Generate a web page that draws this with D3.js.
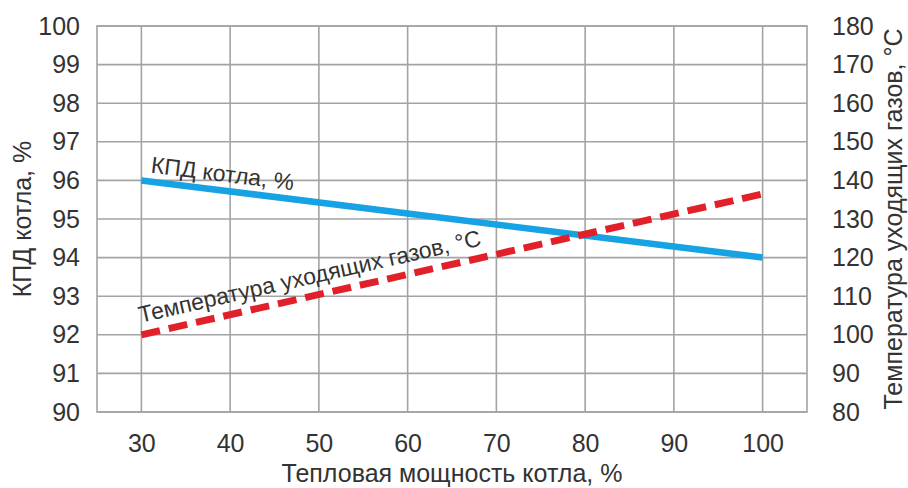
<!DOCTYPE html>
<html>
<head>
<meta charset="utf-8">
<script src="https://cdn.jsdelivr.net/npm/d3@7"></script>
<style>
html,body{margin:0;padding:0;background:#fff;}
svg{display:block;}
text{font-family:"Liberation Sans",Arial,sans-serif;fill:#333;}
</style>
</head>
<body>
<svg id="chart" width="908" height="488"></svg>
<script>
// Data
const loads = [30, 100];                 // Тепловая мощность котла, %
const efficiency = [96, 94];             // КПД котла, %
const fluegasTemp = [100, 136.5];        // Температура уходящих газов, °C
const xTicks = [30, 40, 50, 60, 70, 80, 90, 100];
const yLeftTicks = [90, 91, 92, 93, 94, 95, 96, 97, 98, 99, 100];
const yRightTicks = [80, 90, 100, 110, 120, 130, 140, 150, 160, 170, 180];
const xTitle = "Тепловая мощность котла, %";
const yLeftTitle = "КПД котла, %";
const yRightTitle = "Температура уходящих газов, °C";
const effLabel = "КПД котла, %";
const tempLabel = "Температура уходящих газов, °C";

const svg = d3.select("#chart");
const L = 97, R = 807, T = 26, B = 412;

const x = d3.scaleLinear().domain([25, 105]).range([L, R]);
const yL = d3.scaleLinear().domain([90, 100]).range([B, T]);
const yR = d3.scaleLinear().domain([80, 180]).range([B, T]);

const gridColor = "#a3a3a3";
// grid
const g = svg.append("g");
g.selectAll("line.h").data(yLeftTicks).enter().append("line")
  .attr("x1", L).attr("x2", R).attr("y1", d => yL(d)).attr("y2", d => yL(d))
  .attr("stroke", gridColor).attr("stroke-width", 1.6);
g.selectAll("line.v").data(xTicks).enter().append("line")
  .attr("y1", T).attr("y2", B).attr("x1", d => x(d)).attr("x2", d => x(d))
  .attr("stroke", gridColor).attr("stroke-width", 1.6);
g.append("rect").attr("x", L).attr("y", T).attr("width", R - L).attr("height", B - T)
  .attr("fill", "none").attr("stroke", gridColor).attr("stroke-width", 1.6);

// axes (labels only)
const fs = 25;
const axL = svg.append("g").attr("transform", `translate(${L},0)`)
  .call(d3.axisLeft(yL).tickValues(yLeftTicks).tickSize(0).tickPadding(17).tickFormat(d3.format("d")));
const axR = svg.append("g").attr("transform", `translate(${R},0)`)
  .call(d3.axisRight(yR).tickValues(yRightTicks).tickSize(0).tickPadding(25).tickFormat(d3.format("d")));
const axB = svg.append("g").attr("transform", `translate(0,${B})`)
  .call(d3.axisBottom(x).tickValues(xTicks).tickSize(0).tickPadding(22).tickFormat(d3.format("d")));
[axL, axR, axB].forEach(a => {
  a.select(".domain").remove();
  a.selectAll("text").attr("font-size", fs).attr("fill", "#333")
    .style("font-family", '"Liberation Sans",Arial,sans-serif');
});

// titles
svg.append("text").attr("x", 452).attr("y", 482).attr("text-anchor", "middle")
  .attr("font-size", fs).text(xTitle);
svg.append("text").attr("transform", `translate(31,${(T + B) / 2}) rotate(-90)`)
  .attr("text-anchor", "middle").attr("font-size", fs).text(yLeftTitle);
svg.append("text").attr("transform", `translate(902,${(T + B) / 2}) rotate(-90)`)
  .attr("text-anchor", "middle").attr("font-size", fs).text(yRightTitle);

// lines
const effPts = loads.map((d, i) => [x(d), yL(efficiency[i])]);
const tmpPts = loads.map((d, i) => [x(d), yR(fluegasTemp[i])]);
const line = d3.line();
svg.append("path").attr("d", line(effPts)).attr("fill", "none")
  .attr("stroke", "#17a2e3").attr("stroke-width", 6.5);
svg.append("path").attr("d", line(tmpPts)).attr("fill", "none")
  .attr("stroke", "#e2202a").attr("stroke-width", 7).attr("stroke-dasharray", "19,9");

// series labels along the lines
function angle(p) { return Math.atan2(p[1][1] - p[0][1], p[1][0] - p[0][0]) * 180 / Math.PI; }
const aE = angle(effPts), aT = angle(tmpPts);
const ex = x(31), ey = yL(efficiency[0] + (efficiency[1] - efficiency[0]) * (1 / 70)) - 9;
svg.append("text").attr("transform", `translate(${ex},${ey}) rotate(${aE})`)
  .attr("font-size", 23).text(effLabel);
const tx = x(30) - 1, ty = yR(fluegasTemp[0]) - 12;
svg.append("text").attr("transform", `translate(${tx},${ty}) rotate(${aT})`)
  .attr("font-size", 23).text(tempLabel);
</script>
</body>
</html>
